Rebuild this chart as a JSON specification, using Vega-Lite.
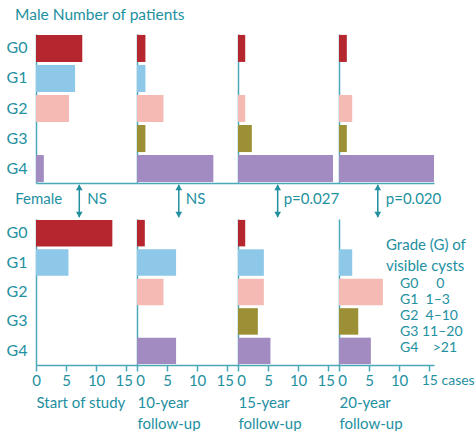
{
  "$schema": "https://vega.github.io/schema/vega-lite/v6.json",
  "padding": {"left": 6, "top": 7, "right": 0, "bottom": 0},
  "background": "white",
  "config": {
    "font": "Lato, sans-serif",
    "view": {"stroke": null},
    "axis": {"domainColor": "#4aa9b8", "domainWidth": 1.5, "tickColor": "#4aa9b8", "tickWidth": 1.5, "labelColor": "#23909f", "titleColor": "#23909f", "grid": false, "minExtent": 0, "labelFont": "Lato, sans-serif", "titleFont": "Lato, sans-serif", "titleFontWeight": "normal"},
    "legend": {"labelColor": "#23909f", "titleColor": "#23909f", "titleFontWeight": "normal", "labelFont": "Lato, sans-serif", "titleFont": "Lato, sans-serif"},
    "text": {"color": "#23909f", "fontSize": 15},
    "title": {"color": "#23909f", "fontWeight": "normal", "font": "Lato, sans-serif"}
  },
  "title": {"text": "Male Number of patients", "anchor": "start", "fontSize": 15.5, "dx": 9, "offset": 11},
  "datasets": {
    "bars": [
      {"sex": "Male", "period": "Start", "grade": "G0", "n": 7.7},
      {"sex": "Male", "period": "Start", "grade": "G1", "n": 6.5},
      {"sex": "Male", "period": "Start", "grade": "G2", "n": 5.5},
      {"sex": "Male", "period": "Start", "grade": "G3", "n": 0},
      {"sex": "Male", "period": "Start", "grade": "G4", "n": 1.3},
      {"sex": "Male", "period": "10y", "grade": "G0", "n": 1.4},
      {"sex": "Male", "period": "10y", "grade": "G1", "n": 1.4},
      {"sex": "Male", "period": "10y", "grade": "G2", "n": 4.4},
      {"sex": "Male", "period": "10y", "grade": "G3", "n": 1.4},
      {"sex": "Male", "period": "10y", "grade": "G4", "n": 12.7},
      {"sex": "Male", "period": "15y", "grade": "G0", "n": 1.2},
      {"sex": "Male", "period": "15y", "grade": "G1", "n": 0},
      {"sex": "Male", "period": "15y", "grade": "G2", "n": 1.2},
      {"sex": "Male", "period": "15y", "grade": "G3", "n": 2.3},
      {"sex": "Male", "period": "15y", "grade": "G4", "n": 15.8},
      {"sex": "Male", "period": "20y", "grade": "G0", "n": 1.3},
      {"sex": "Male", "period": "20y", "grade": "G1", "n": 0},
      {"sex": "Male", "period": "20y", "grade": "G2", "n": 2.2},
      {"sex": "Male", "period": "20y", "grade": "G3", "n": 1.3},
      {"sex": "Male", "period": "20y", "grade": "G4", "n": 15.8},
      {"sex": "Female", "period": "Start", "grade": "G0", "n": 12.7},
      {"sex": "Female", "period": "Start", "grade": "G1", "n": 5.4},
      {"sex": "Female", "period": "Start", "grade": "G2", "n": 0},
      {"sex": "Female", "period": "Start", "grade": "G3", "n": 0},
      {"sex": "Female", "period": "Start", "grade": "G4", "n": 0},
      {"sex": "Female", "period": "10y", "grade": "G0", "n": 1.3},
      {"sex": "Female", "period": "10y", "grade": "G1", "n": 6.5},
      {"sex": "Female", "period": "10y", "grade": "G2", "n": 4.4},
      {"sex": "Female", "period": "10y", "grade": "G3", "n": 0},
      {"sex": "Female", "period": "10y", "grade": "G4", "n": 6.5},
      {"sex": "Female", "period": "15y", "grade": "G0", "n": 1.2},
      {"sex": "Female", "period": "15y", "grade": "G1", "n": 4.3},
      {"sex": "Female", "period": "15y", "grade": "G2", "n": 4.3},
      {"sex": "Female", "period": "15y", "grade": "G3", "n": 3.3},
      {"sex": "Female", "period": "15y", "grade": "G4", "n": 5.4},
      {"sex": "Female", "period": "20y", "grade": "G0", "n": 0},
      {"sex": "Female", "period": "20y", "grade": "G1", "n": 2.2},
      {"sex": "Female", "period": "20y", "grade": "G2", "n": 7.3},
      {"sex": "Female", "period": "20y", "grade": "G3", "n": 3.2},
      {"sex": "Female", "period": "20y", "grade": "G4", "n": 5.3}
    ],
    "tests": [
      {"period": "Start", "ax": 7.2, "label": "NS"},
      {"period": "10y", "ax": 6.95, "label": "NS"},
      {"period": "15y", "ax": 6.6, "label": "p=0.027"},
      {"period": "20y", "ax": 6.45, "label": "p=0.020"}
    ]
  },
  "spacing": 0,
  "vconcat": [
    {
      "bounds": "flush",
      "spacing": 0,
      "hconcat": [
        {"width": 101, "height": 149, "data": {"name": "bars"}, "transform": [{"filter": "datum.sex == 'Male' && datum.period == 'Start'"}], "mark": "bar",
         "encoding": {
           "y": {"field": "grade", "type": "nominal", "scale": {"domain": ["G0", "G1", "G2", "G3", "G4"], "paddingInner": 0.1, "paddingOuter": 0.03}, "axis": {"title": null, "ticks": false, "labelFontSize": 16, "labelPadding": 9}},
           "x": {"field": "n", "type": "quantitative", "scale": {"domain": [0, 16.8], "nice": false}, "axis": {"title": null, "labels": false, "ticks": false}},
           "color": {"field": "grade", "type": "nominal", "scale": {"domain": ["G0", "G1", "G2", "G3", "G4"], "range": ["#b5262f", "#8dc8e8", "#f4bab3", "#9b9035", "#a18bc1"]},
             "legend": {"orient": "none", "legendX": 350, "legendY": 204, "title": ["Grade (G) of", "visible cysts"], "titleFontSize": 15, "titleLineHeight": 21, "titlePadding": 3, "labelFontSize": 14, "symbolOpacity": 0, "symbolSize": 1, "symbolStrokeWidth": 0, "labelOffset": 0, "rowPadding": 2, "labelExpr": "{'G0': 'G0\u00a0\u00a0\u00a0\u00a0\u00a00', 'G1': 'G1\u00a0\u00a01\u20133', 'G2': 'G2\u00a0\u00a04\u201310', 'G3': 'G3\u00a011\u201320', 'G4': 'G4\u00a0\u00a0\u00a0\u00a0>21'}[datum.label]"}}
         }},
        {"width": 101, "height": 149, "data": {"name": "bars"}, "transform": [{"filter": "datum.sex == 'Male' && datum.period == '10y'"}], "mark": "bar",
         "encoding": {
           "y": {"field": "grade", "type": "nominal", "scale": {"domain": ["G0", "G1", "G2", "G3", "G4"], "paddingInner": 0.1, "paddingOuter": 0.03}, "axis": {"title": null, "ticks": false, "labels": false}},
           "x": {"field": "n", "type": "quantitative", "scale": {"domain": [0, 16.8], "nice": false}, "axis": {"title": null, "labels": false, "ticks": false}},
           "color": {"field": "grade", "type": "nominal"}
         }},
        {"width": 101, "height": 149, "data": {"name": "bars"}, "transform": [{"filter": "datum.sex == 'Male' && datum.period == '15y'"}], "mark": "bar",
         "encoding": {
           "y": {"field": "grade", "type": "nominal", "scale": {"domain": ["G0", "G1", "G2", "G3", "G4"], "paddingInner": 0.1, "paddingOuter": 0.03}, "axis": {"title": null, "ticks": false, "labels": false}},
           "x": {"field": "n", "type": "quantitative", "scale": {"domain": [0, 16.8], "nice": false}, "axis": {"title": null, "labels": false, "ticks": false}},
           "color": {"field": "grade", "type": "nominal"}
         }},
        {"width": 95, "height": 149, "data": {"name": "bars"}, "transform": [{"filter": "datum.sex == 'Male' && datum.period == '20y'"}], "mark": "bar",
         "encoding": {
           "y": {"field": "grade", "type": "nominal", "scale": {"domain": ["G0", "G1", "G2", "G3", "G4"], "paddingInner": 0.1, "paddingOuter": 0.03}, "axis": {"title": null, "ticks": false, "labels": false}},
           "x": {"field": "n", "type": "quantitative", "scale": {"domain": [0, 15.8], "nice": false}, "axis": {"title": null, "labels": false, "ticks": false}},
           "color": {"field": "grade", "type": "nominal"}
         }}
      ]
    },
    {
      "bounds": "flush",
      "spacing": 0,
      "hconcat": [
        {"width": 101, "height": 36, "data": {"name": "tests"}, "transform": [{"filter": "datum.period == 'Start'"}],
         "layer": [
           {"mark": {"type": "rule", "color": "#23909f", "strokeWidth": 1.5}, "encoding": {"x": {"field": "ax", "type": "quantitative", "scale": {"domain": [0, 16.8], "nice": false}, "axis": null}, "y": {"datum": 0.05, "type": "quantitative", "scale": {"domain": [0, 1]}, "axis": null}, "y2": {"datum": 0.95}}},
           {"mark": {"type": "point", "shape": "triangle-up", "filled": true, "color": "#23909f", "size": 45, "opacity": 1}, "encoding": {"x": {"field": "ax", "type": "quantitative"}, "y": {"datum": 0.88, "type": "quantitative"}}},
           {"mark": {"type": "point", "shape": "triangle-down", "filled": true, "color": "#23909f", "size": 45, "opacity": 1}, "encoding": {"x": {"field": "ax", "type": "quantitative"}, "y": {"datum": 0.12, "type": "quantitative"}}},
           {"mark": {"type": "text", "align": "left", "baseline": "middle", "dx": 8}, "encoding": {"x": {"field": "ax", "type": "quantitative"}, "y": {"datum": 0.55, "type": "quantitative"}, "text": {"field": "label"}}},
           {"data": {"values": [{"label": "Female", "x": -3.45}]}, "mark": {"type": "text", "align": "left", "baseline": "middle"}, "encoding": {"x": {"field": "x", "type": "quantitative"}, "y": {"datum": 0.55, "type": "quantitative"}, "text": {"field": "label"}}}
         ]},
        {"width": 101, "height": 36, "data": {"name": "tests"}, "transform": [{"filter": "datum.period == '10y'"}],
         "layer": [
           {"mark": {"type": "rule", "color": "#23909f", "strokeWidth": 1.5}, "encoding": {"x": {"field": "ax", "type": "quantitative", "scale": {"domain": [0, 16.8], "nice": false}, "axis": null}, "y": {"datum": 0.05, "type": "quantitative", "scale": {"domain": [0, 1]}, "axis": null}, "y2": {"datum": 0.95}}},
           {"mark": {"type": "point", "shape": "triangle-up", "filled": true, "color": "#23909f", "size": 45, "opacity": 1}, "encoding": {"x": {"field": "ax", "type": "quantitative"}, "y": {"datum": 0.88, "type": "quantitative"}}},
           {"mark": {"type": "point", "shape": "triangle-down", "filled": true, "color": "#23909f", "size": 45, "opacity": 1}, "encoding": {"x": {"field": "ax", "type": "quantitative"}, "y": {"datum": 0.12, "type": "quantitative"}}},
           {"mark": {"type": "text", "align": "left", "baseline": "middle", "dx": 7}, "encoding": {"x": {"field": "ax", "type": "quantitative"}, "y": {"datum": 0.55, "type": "quantitative"}, "text": {"field": "label"}}}
         ]},
        {"width": 101, "height": 36, "data": {"name": "tests"}, "transform": [{"filter": "datum.period == '15y'"}],
         "layer": [
           {"mark": {"type": "rule", "color": "#23909f", "strokeWidth": 1.5}, "encoding": {"x": {"field": "ax", "type": "quantitative", "scale": {"domain": [0, 16.8], "nice": false}, "axis": null}, "y": {"datum": 0.05, "type": "quantitative", "scale": {"domain": [0, 1]}, "axis": null}, "y2": {"datum": 0.95}}},
           {"mark": {"type": "point", "shape": "triangle-up", "filled": true, "color": "#23909f", "size": 45, "opacity": 1}, "encoding": {"x": {"field": "ax", "type": "quantitative"}, "y": {"datum": 0.88, "type": "quantitative"}}},
           {"mark": {"type": "point", "shape": "triangle-down", "filled": true, "color": "#23909f", "size": 45, "opacity": 1}, "encoding": {"x": {"field": "ax", "type": "quantitative"}, "y": {"datum": 0.12, "type": "quantitative"}}},
           {"mark": {"type": "text", "align": "left", "baseline": "middle", "dx": 6}, "encoding": {"x": {"field": "ax", "type": "quantitative"}, "y": {"datum": 0.55, "type": "quantitative"}, "text": {"field": "label"}}}
         ]},
        {"width": 95, "height": 36, "data": {"name": "tests"}, "transform": [{"filter": "datum.period == '20y'"}],
         "layer": [
           {"mark": {"type": "rule", "color": "#23909f", "strokeWidth": 1.5}, "encoding": {"x": {"field": "ax", "type": "quantitative", "scale": {"domain": [0, 15.8], "nice": false}, "axis": null}, "y": {"datum": 0.05, "type": "quantitative", "scale": {"domain": [0, 1]}, "axis": null}, "y2": {"datum": 0.95}}},
           {"mark": {"type": "point", "shape": "triangle-up", "filled": true, "color": "#23909f", "size": 45, "opacity": 1}, "encoding": {"x": {"field": "ax", "type": "quantitative"}, "y": {"datum": 0.88, "type": "quantitative"}}},
           {"mark": {"type": "point", "shape": "triangle-down", "filled": true, "color": "#23909f", "size": 45, "opacity": 1}, "encoding": {"x": {"field": "ax", "type": "quantitative"}, "y": {"datum": 0.12, "type": "quantitative"}}},
           {"mark": {"type": "text", "align": "left", "baseline": "middle", "dx": 8}, "encoding": {"x": {"field": "ax", "type": "quantitative"}, "y": {"datum": 0.55, "type": "quantitative"}, "text": {"field": "label"}}}
         ]}
      ]
    },
    {
      "bounds": "flush",
      "spacing": 0,
      "hconcat": [
        {"width": 101, "height": 146, "data": {"name": "bars"}, "transform": [{"filter": "datum.sex == 'Female' && datum.period == 'Start'"}], "mark": "bar",
         "encoding": {
           "y": {"field": "grade", "type": "nominal", "scale": {"domain": ["G0", "G1", "G2", "G3", "G4"], "paddingInner": 0.1, "paddingOuter": 0.03}, "axis": {"title": null, "ticks": false, "labelFontSize": 16, "labelPadding": 9}},
           "x": {"field": "n", "type": "quantitative", "scale": {"domain": [0, 16.8], "nice": false}, "axis": {"values": [0, 5, 10, 15], "title": "Start of study", "tickSize": 6, "labelFontSize": 15, "labelPadding": 2, "labelFlush": false, "labelOverlap": false, "labelOffset": {"condition": {"test": "datum.value == 15", "value": -2.5}, "value": 0}, "titleAnchor": "start", "titleAlign": "left", "titleFontSize": 15, "titleLineHeight": 21, "titlePadding": 7}},
           "color": {"field": "grade", "type": "nominal"}
         }},
        {"width": 101, "height": 146, "data": {"name": "bars"}, "transform": [{"filter": "datum.sex == 'Female' && datum.period == '10y'"}], "mark": "bar",
         "encoding": {
           "y": {"field": "grade", "type": "nominal", "scale": {"domain": ["G0", "G1", "G2", "G3", "G4"], "paddingInner": 0.1, "paddingOuter": 0.03}, "axis": {"title": null, "ticks": false, "labels": false}},
           "x": {"field": "n", "type": "quantitative", "scale": {"domain": [0, 16.8], "nice": false}, "axis": {"values": [0, 5, 10, 15], "title": ["10-year", "follow-up"], "tickSize": 6, "labelFontSize": 15, "labelPadding": 2, "labelFlush": false, "labelOverlap": false, "labelOffset": {"condition": [{"test": "datum.value == 15", "value": -2.5}, {"test": "datum.value == 0", "value": 3}], "value": 0}, "titleAnchor": "start", "titleAlign": "left", "titleFontSize": 15, "titleLineHeight": 21, "titlePadding": 7}},
           "color": {"field": "grade", "type": "nominal"}
         }},
        {"width": 101, "height": 146, "data": {"name": "bars"}, "transform": [{"filter": "datum.sex == 'Female' && datum.period == '15y'"}], "mark": "bar",
         "encoding": {
           "y": {"field": "grade", "type": "nominal", "scale": {"domain": ["G0", "G1", "G2", "G3", "G4"], "paddingInner": 0.1, "paddingOuter": 0.03}, "axis": {"title": null, "ticks": false, "labels": false}},
           "x": {"field": "n", "type": "quantitative", "scale": {"domain": [0, 16.8], "nice": false}, "axis": {"values": [0, 5, 10, 15], "title": ["15-year", "follow-up"], "tickSize": 6, "labelFontSize": 15, "labelPadding": 2, "labelFlush": false, "labelOverlap": false, "labelOffset": {"condition": [{"test": "datum.value == 15", "value": -2.5}, {"test": "datum.value == 0", "value": 3}], "value": 0}, "titleAnchor": "start", "titleAlign": "left", "titleFontSize": 15, "titleLineHeight": 21, "titlePadding": 7}},
           "color": {"field": "grade", "type": "nominal"}
         }},
        {"width": 95, "height": 146, "data": {"name": "bars"}, "transform": [{"filter": "datum.sex == 'Female' && datum.period == '20y'"}], "mark": "bar",
         "encoding": {
           "y": {"field": "grade", "type": "nominal", "scale": {"domain": ["G0", "G1", "G2", "G3", "G4"], "paddingInner": 0.1, "paddingOuter": 0.03}, "axis": {"title": null, "ticks": false, "labels": false}},
           "x": {"field": "n", "type": "quantitative", "scale": {"domain": [0, 15.8], "nice": false}, "axis": {"values": [0, 5, 10, 15], "labelExpr": "datum.value == 15 ? '15 cases' : datum.label", "labelAlign": {"condition": {"test": "datum.value == 15", "value": "left"}, "value": "center"}, "labelOffset": {"condition": [{"test": "datum.value == 15", "value": -8}, {"test": "datum.value == 0", "value": 3}], "value": 0}, "labelFontSize": {"condition": {"test": "datum.value == 15", "value": 14}, "value": 15}, "title": ["20-year", "follow-up"], "tickSize": 6, "labelPadding": 2, "labelFlush": false, "labelOverlap": false, "titleAnchor": "start", "titleAlign": "left", "titleFontSize": 15, "titleLineHeight": 21, "titlePadding": 7}},
           "color": {"field": "grade", "type": "nominal"}
         }}
      ]
    }
  ]
}
